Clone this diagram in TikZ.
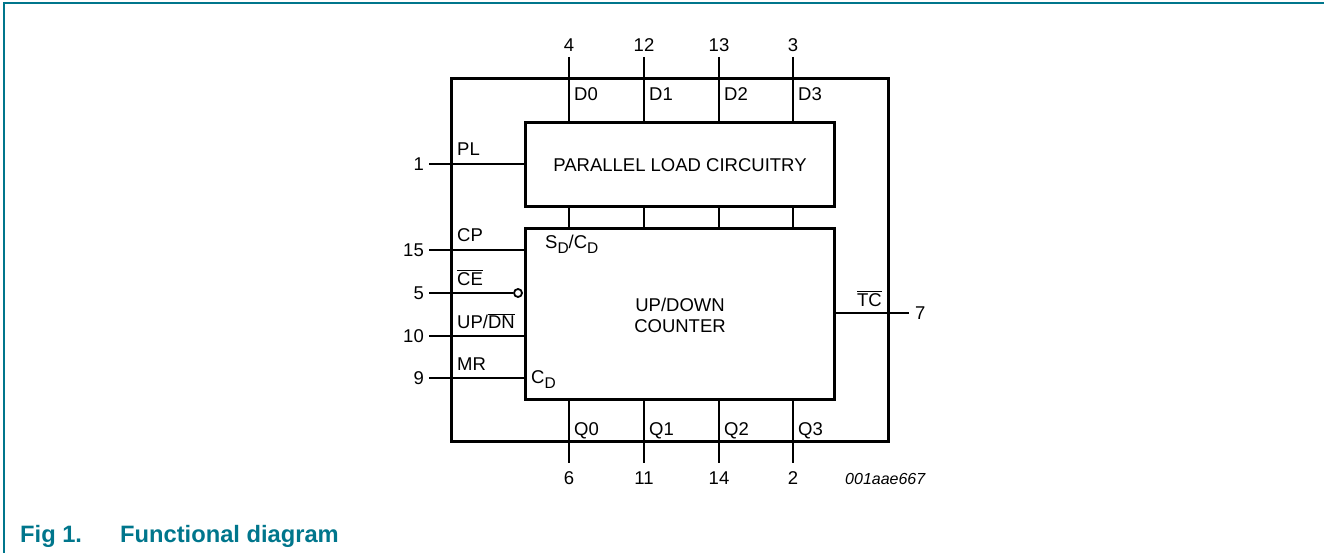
\documentclass[tikz,border=0pt]{standalone}
\usepackage{fontspec}
\setmainfont{Liberation Sans}
\definecolor{nxpteal}{RGB}{0,118,140}
\newcommand\pinsub[1]{\raisebox{-0.28em}{\fontsize{15.5}{15.5}\selectfont #1}}
\newcommand\ovl[1]{$\overline{\mbox{#1}}$}
\begin{document}
\begin{tikzpicture}[x=1pt,y=-1pt,
  thickbox/.style={draw, line width=3pt, inner sep=0pt},
  pin/.style={line width=1.4pt},
  txt/.style={font=\fontsize{18.5}{20}\selectfont, inner sep=0pt},
  lbl/.style={txt, anchor=base west},
  num/.style={txt}]
\useasboundingbox (0,0) rectangle (1324,553);
% frame
\draw[nxpteal, line width=2pt] (4,553) -- (4,3) -- (1324,3);
% boxes
\node[thickbox, minimum width=437pt, minimum height=362pt] (chip) at (669.5,260) {};
\node[thickbox, minimum width=309pt, minimum height=84pt, txt] (pl) at (680,165) {PARALLEL LOAD CIRCUITRY};
\node[thickbox, minimum width=309pt, minimum height=170pt] (cnt) at (680,314) {};
\node[txt, align=center] (cnttxt) at (680,315) {UP/DOWN\\[1pt]COUNTER};
% top pins
\foreach \x/\n/\l [count=\i] in {569/4/D0, 644/12/D1, 719/13/D2, 793/3/D3} {
  \coordinate (t\i) at (\x,57);
  \node[num, anchor=base] (tn\i) at (\x,52) {\n};
  \draw[pin] (t\i) -- (t\i |- pl.north);
  \node[lbl] (tl\i) at (\x+5,101) {\l};
  \draw[pin] (t\i |- pl.south) -- (t\i |- cnt.north);
}
% bottom pins
\foreach \x/\n/\l [count=\i] in {569/6/Q0, 644/11/Q1, 719/14/Q2, 793/2/Q3} {
  \coordinate (b\i) at (\x,463);
  \node[num, anchor=base] (bn\i) at (\x,484) {\n};
  \draw[pin] (b\i |- cnt.south) -- (b\i);
  \node[lbl] (bl\i) at (\x+5,435) {\l};
}
% left pins
\coordinate (lpl) at (429,164);
\node[num, anchor=east] (npl) at (424,164) {1};
\draw[pin] (lpl) -- (lpl -| pl.west);
\node[lbl] at (457,156) {PL};

\coordinate (lcp) at (429,250);
\node[num, anchor=east] (ncp) at (424,250) {15};
\draw[pin] (lcp) -- (lcp -| cnt.west);
\node[lbl] at (457,242) {CP};

\coordinate (lce) at (429,293);
\node[num, anchor=east] (nce) at (424,293) {5};
\node[circle, draw, line width=1.8pt, minimum size=8pt, inner sep=0pt] (bub) at (518,293) {};
\draw[pin] (lce) -- (bub.west);
\node[lbl] at (457,285) {\ovl{CE}};

\coordinate (lud) at (429,336);
\node[num, anchor=east] (nud) at (424,336) {10};
\draw[pin] (lud) -- (lud -| cnt.west);
\node[lbl] at (457,328) {UP/\ovl{DN}};

\coordinate (lmr) at (429,378);
\node[num, anchor=east] (nmr) at (424,378) {9};
\draw[pin] (lmr) -- (lmr -| cnt.west);
\node[lbl] at (457,370) {MR};

% inner labels
\node[lbl] at (545,248) {S\pinsub{D}/C\pinsub{D}};
\node[lbl] at (531,383) {C\pinsub{D}};

% right pin
\coordinate (rtc) at (909,313);
\draw[pin] (cnt.east |- rtc) -- (rtc);
\node[txt, anchor=west] (ntc) at (915,313) {7};
\node[txt, anchor=base east] at (882,306) {\ovl{TC}};

% figure id
\node[inner sep=0pt, anchor=base west, font=\fontsize{16}{18}\selectfont\itshape] at (845,484) {001aae667};
% caption
\node[inner sep=0pt, anchor=base west, text=nxpteal, font=\fontsize{23.7}{26}\selectfont\bfseries] at (20,542) {Fig 1.};
\node[inner sep=0pt, anchor=base west, text=nxpteal, font=\fontsize{23.7}{26}\selectfont\bfseries] at (120,542) {Functional diagram};
\end{tikzpicture}
\end{document}
